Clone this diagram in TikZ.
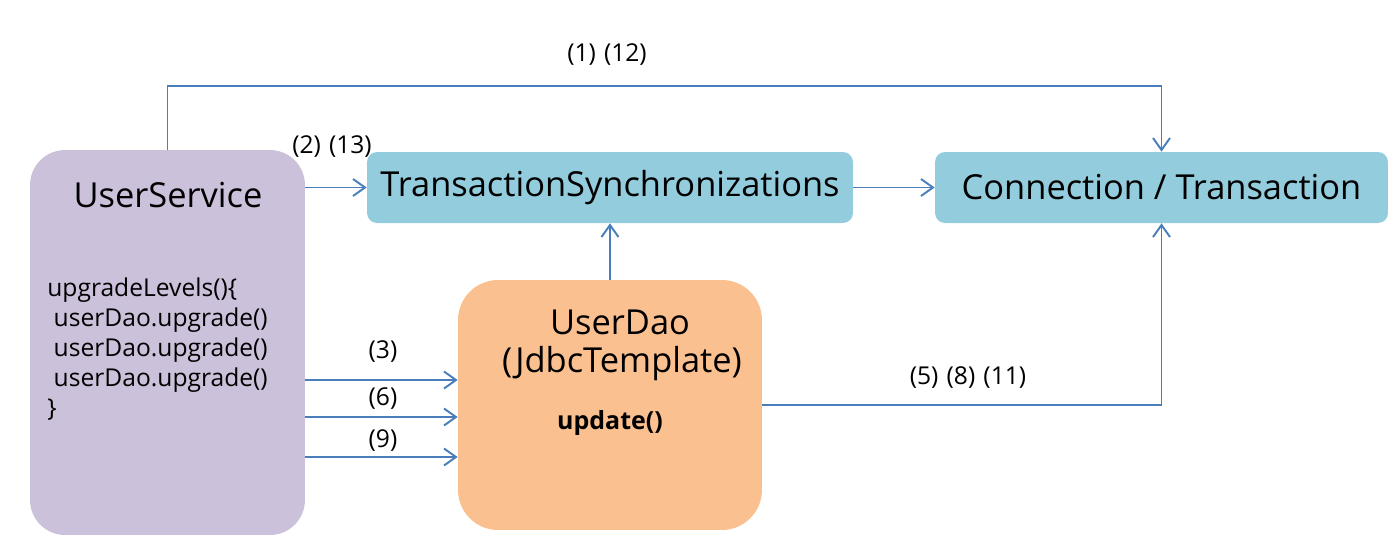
\documentclass[tikz,border=0pt]{standalone}
\usepackage{fontspec}
\setmainfont{Open Sans}
\usetikzlibrary{arrows.meta}
\definecolor{lav}{HTML}{CCC1DA}
\definecolor{cyanbox}{HTML}{93CDDD}
\definecolor{orangebox}{HTML}{FAC090}
\definecolor{linec}{HTML}{4A7EBB}
\tikzset{
  box/.style={inner sep=0pt, draw=none},
  arr/.style={draw=linec, line width=1.1pt, -{Straight Barb[length=0.24cm,width=0.34cm,line width=1.1pt]}},
  lbl/.style={font=\fontsize{14pt}{16pt}\selectfont, inner sep=0pt},
  bigtxt/.style={font=\fontsize{19.6pt}{23pt}\selectfont, inner sep=0pt},
}
\begin{document}
\begin{tikzpicture}[x=0.02cm, y=-0.02cm]
\useasboundingbox (0,0) rectangle (1400,559);
% boxes
\node[box, fill=lav, rounded corners=0.7cm, minimum width=5.5cm, minimum height=7.7cm] (us) at (167.5,342.5) {};
\node[box, fill=cyanbox, rounded corners=0.2cm, minimum width=9.72cm, minimum height=1.42cm] (ts) at (610,187.5) {};
\node[box, fill=cyanbox, rounded corners=0.2cm, minimum width=9.06cm, minimum height=1.42cm] (ct) at (1161.5,187.5) {};
\node[box, fill=orangebox, rounded corners=0.8cm, minimum width=6.08cm, minimum height=5cm] (ud) at (610,405) {};
% texts
\node[bigtxt] (ustitle) at (168,195) {UserService};
\node[inner sep=0pt, anchor=base west, align=left, font=\fontsize{14pt}{17pt}\selectfont] (uscode) at (47,416)
  {upgradeLevels()\{\\\ userDao.upgrade()\\\ userDao.upgrade()\\\ userDao.upgrade()\\\}};
\node[bigtxt] (tstxt) at (ts.center) {TransactionSynchronizations};
\node[bigtxt] (cttxt) at (ct.center) {Connection / Transaction};
\node[bigtxt] (udt1) at (620,322) {UserDao};
\node[bigtxt] (udt2) at (622,364) {(JdbcTemplate)};
\node[inner sep=0pt, font=\bfseries\fontsize{14.2pt}{16pt}\selectfont] (udt3) at (610,423) {update()};
% coordinates
\coordinate (top) at (600,86);
\coordinate (a3) at (0,380);
\coordinate (a6) at (0,417);
\coordinate (a9) at (0,457);
% connectors
\draw[arr] (us.north) |- (top) -| (ct.north);
\draw[arr] (ts.west -| us.east) -- (ts.west);
\draw[arr] (ts.east) -- (ct.west);
\draw[arr] (ud.north) -- (ts.south);
\draw[arr] (ud.east) -| (ct.south);
\draw[arr] (us.east |- a3) -- (ud.west |- a3);
\draw[arr] (us.east |- a6) -- (ud.west |- a6);
\draw[arr] (us.east |- a9) -- (ud.west |- a9);
% labels
\node[lbl] (l1) at (607,55) {(1)\,\,(12)};
\node[lbl] (l2) at (332,147) {(2)\,\,(13)};
\node[lbl] (l3) at (383,352) {(3)};
\node[lbl] (l6) at (383,399) {(6)};
\node[lbl] (l9) at (383,441) {(9)};
\node[lbl] (l5) at (968,378) {(5)\,\,(8)\,\,(11)};
\end{tikzpicture}
\end{document}
